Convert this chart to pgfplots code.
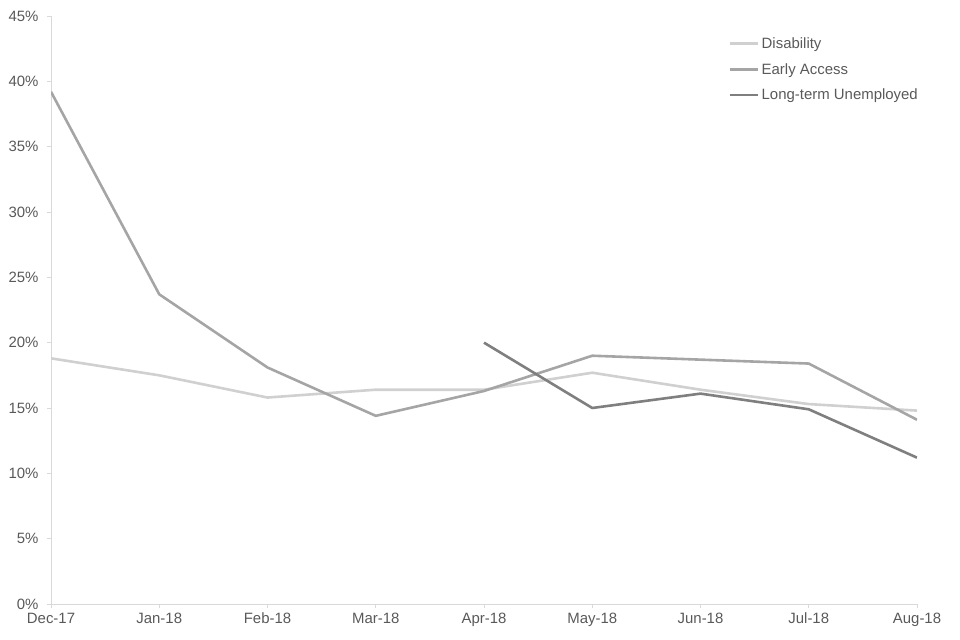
\documentclass[border=0pt]{standalone}
\usepackage{pgfplots}
\pgfplotsset{compat=1.18}
\usepackage{fontspec}
\setmainfont{Liberation Sans}
\definecolor{disab}{HTML}{D0D0D0}
\definecolor{early}{HTML}{A5A5A5}
\definecolor{ltu}{HTML}{7F7F7F}
\definecolor{axgray}{HTML}{D9D9D9}
\definecolor{txtgray}{HTML}{595959}
\begin{document}
\begin{tikzpicture}
\begin{axis}[
  scale only axis,
  width=866bp, height=588bp,
  xmin=0, xmax=8, ymin=0, ymax=45,
  xtick={0,...,8},
  xticklabels={Dec-17,Jan-18,Feb-18,Mar-18,Apr-18,May-18,Jun-18,Jul-18,Aug-18},
  ytick={0,5,...,45},
  yticklabel={\pgfmathprintnumber{\tick}\%},
  /pgf/number format/assume math mode=true,
  axis x line*=bottom, axis y line*=left,
  axis line style={axgray, line width=0.8bp, -},
  tick style={axgray, line width=0.8bp},
  tick align=outside, major tick length=4bp,
  ticklabel style={font=\fontsize{15}{17}\selectfont, text=txtgray},
  yticklabel style={xshift=-5bp},
  xticklabel style={yshift=-1bp, text height=11bp, text depth=3bp, anchor=north},
  legend style={at={(0.783,0.967)}, anchor=north west, draw=none, fill=none,
    font=\fontsize{15}{17}\selectfont, text=txtgray, row sep=9.5bp,
    inner sep=0pt, outer sep=0pt},
  legend cell align=left,
  legend image code/.code={\draw[#1] (0bp,0bp) -- (28bp,0bp);},
  every axis plot/.append style={line width=2.6bp, line join=round},
]
\addplot[disab] coordinates {(0,18.8) (1,17.5) (2,15.8) (3,16.4) (4,16.4) (5,17.7) (6,16.4) (7,15.3) (8,14.8)};
\addlegendentry{Disability}
\addplot[early] coordinates {(0,39.2) (1,23.7) (2,18.1) (3,14.4) (4,16.3) (5,19.0) (6,18.7) (7,18.4) (8,14.1)};
\addlegendentry{Early Access}
\addplot[ltu] coordinates {(4,20.0) (5,15.0) (6,16.1) (7,14.9) (8,11.2)};
\addlegendentry{Long-term Unemployed}
\end{axis}
\path (current axis.south west) ++(-51bp,-36bp) coordinate (bl);
\path (current axis.north east) ++(43bp,16bp) coordinate (tr);
\useasboundingbox (bl) rectangle (tr);
\end{tikzpicture}
\end{document}
